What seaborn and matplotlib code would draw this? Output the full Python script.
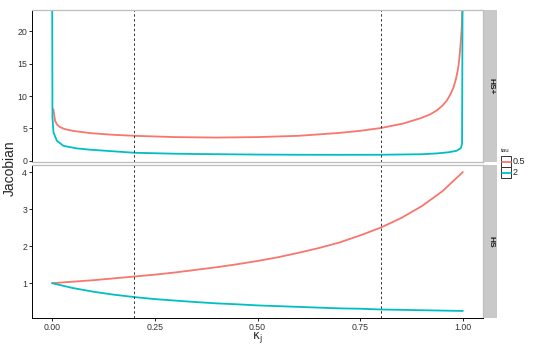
import numpy as np
import pandas as pd
import matplotlib
matplotlib.use("Agg")
import matplotlib.pyplot as plt
import seaborn as sns
from matplotlib.patches import Rectangle

# valores leidos del grafico
# panel HS+
kappa_hsp_05 = [0.003, 0.0073, 0.012, 0.019, 0.03, 0.052, 0.093, 0.15, 0.2, 0.3, 0.4, 0.5,
                0.6, 0.7, 0.75, 0.8, 0.855, 0.896, 0.92, 0.937, 0.95, 0.961, 0.97, 0.977,
                0.983, 0.987, 0.99, 0.993, 0.995, 0.997, 0.999]
jac_hsp_05 = [7.95, 6.15, 5.6, 5.2, 4.9, 4.6, 4.26, 4.0, 3.85, 3.65, 3.58, 3.65,
              3.85, 4.3, 4.62, 5.05, 5.75, 6.55, 7.15, 7.8, 8.5, 9.3, 10.3, 11.3,
              12.6, 13.8, 15.0, 16.9, 18.5, 20.3, 24.0]
kappa_hsp_2 = [0.0002, 0.0008, 0.0032, 0.0114, 0.0276, 0.06, 0.093, 0.2, 0.3, 0.36, 0.5, 0.6,
               0.7, 0.8, 0.9, 0.937, 0.965, 0.985, 0.995, 0.998, 0.9992]
jac_hsp_2 = [24.0, 6.7, 4.4, 3.1, 2.3, 1.9, 1.7, 1.23, 1.08, 1.03, 0.95, 0.92,
             0.91, 0.92, 1.0, 1.13, 1.3, 1.54, 1.95, 2.6, 24.0]
# panel HS
kappa_hs = [0.0, 0.05, 0.1, 0.15, 0.2, 0.25, 0.3, 0.35, 0.4, 0.45, 0.5,
            0.55, 0.6, 0.65, 0.7, 0.75, 0.8, 0.85, 0.9, 0.95, 1.0]
jac_hs_05 = [1.0, 1.04, 1.08, 1.13, 1.18, 1.23, 1.29, 1.36, 1.43, 1.51, 1.6,
             1.70, 1.82, 1.95, 2.1, 2.29, 2.5, 2.76, 3.08, 3.48, 4.0]
jac_hs_2 = [1.0, 0.87, 0.77, 0.69, 0.625, 0.57, 0.53, 0.49, 0.455, 0.43, 0.4,
            0.38, 0.36, 0.34, 0.32, 0.31, 0.29, 0.28, 0.27, 0.26, 0.25]

tau_levels = ["0.5", "2"]
paneles = ["HS+", "HS"]
cortes = [0.2, 0.8]
colores = {"0.5": "#F8766D", "2": "#00BFC4"}

df = pd.concat([
    pd.DataFrame({"kappa": kappa_hsp_05, "jac": jac_hsp_05, "tau": "0.5", "panel": "HS+"}),
    pd.DataFrame({"kappa": kappa_hsp_2, "jac": jac_hsp_2, "tau": "2", "panel": "HS+"}),
    pd.DataFrame({"kappa": kappa_hs, "jac": jac_hs_05, "tau": "0.5", "panel": "HS"}),
    pd.DataFrame({"kappa": kappa_hs, "jac": jac_hs_2, "tau": "2", "panel": "HS"}),
])

sns.set_style("white")
plt.rcParams["font.family"] = ["Liberation Sans", "DejaVu Sans"]

W, H = 545, 349
fig = plt.figure(figsize=(W / 100, H / 100), dpi=100)

def fx(px):
    return px / W

def fy(py):
    return 1 - py / H

cajas = {"HS+": (10, 162), "HS": (165, 318)}
ylims = {"HS+": (-0.2, 23.3), "HS": (0.06, 4.19)}
yticks = {"HS+": [0, 5, 10, 15, 20], "HS": [1, 2, 3, 4]}
gris = "#BDBDBD"

for panel in paneles:
    top, bot = cajas[panel]
    ax = fig.add_axes([fx(32), fy(bot), fx(483) - fx(32), fy(top) - fy(bot)])
    sub = df[df["panel"] == panel]
    sns.lineplot(data=sub, x="kappa", y="jac", hue="tau", hue_order=tau_levels,
                 palette=colores, estimator=None, ax=ax, legend=False, linewidth=1.3)
    for c in cortes:
        ax.axvline(c, color="#333333", linestyle=(0, (2.5, 2.5)), linewidth=0.7)
    ax.set_xlim(-0.049, 1.049)
    ax.set_ylim(*ylims[panel])
    ax.set_yticks(yticks[panel])
    ax.set_xticks([0, 0.25, 0.5, 0.75, 1.0])
    ax.tick_params(axis="both", length=2, width=0.6, color="black", labelsize=6.3,
                   labelcolor="#333333", pad=1.5, left=True, bottom=True)
    for s in ["top", "right", "bottom"]:
        ax.spines[s].set_color(gris)
        ax.spines[s].set_linewidth(0.9)
    ax.spines["left"].set_color("black")
    ax.spines["left"].set_linewidth(0.7)
    ax.set_ylabel("")
    ax.set_xlabel("")
    if panel == "HS":
        ax.spines["bottom"].set_color("black")
        ax.spines["bottom"].set_linewidth(0.7)
        ax.set_xticklabels(["0.00", "0.25", "0.50", "0.75", "1.00"])
        ax.set_xlabel(r"$\mathrm{\kappa_j}$", fontsize=8.5, labelpad=-1)
    else:
        ax.tick_params(axis="x", labelbottom=False, bottom=False)
    # tira del facet
    st = fig.add_axes([fx(484), fy(bot), fx(497) - fx(484), fy(top) - fy(bot)])
    st.set_facecolor("#C9C9C9")
    st.set_xticks([])
    st.set_yticks([])
    for s in st.spines.values():
        s.set_visible(False)
    st.text(0.5, 0.5, panel, rotation=-90, ha="center", va="center", fontsize=6,
            fontweight="bold", color="#1A1A1A", transform=st.transAxes)

fig.text(fx(10), fy(168), "Jacobian", rotation=90, ha="center", va="center", fontsize=10)

# leyenda
fig.text(fx(501), fy(151), "tau", fontsize=4.5, ha="left", va="center", color="#222222")
lax = fig.add_axes([fx(501), fy(178), fx(511) - fx(501), fy(156) - fy(178)])
lax.set_xlim(0, 1)
lax.set_ylim(0, 2)
lax.axis("off")
for i, t in enumerate(tau_levels):
    y0 = 1 - i
    lax.add_patch(Rectangle((0, y0), 1, 1, facecolor="white", edgecolor="#333333",
                            linewidth=0.7, clip_on=False))
    lax.plot([0.05, 0.95], [y0 + 0.5, y0 + 0.5], color=colores[t], linewidth=1.3,
             clip_on=False)
    lax.text(1.15, y0 + 0.5, t, fontsize=6.5, ha="left", va="center")

fig.savefig("out.png", dpi=100)
